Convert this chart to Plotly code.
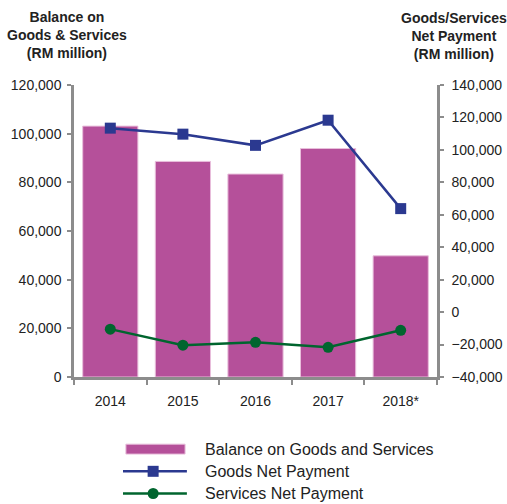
import plotly.graph_objects as go

# Annual values, RM million
years = ["2014", "2015", "2016", "2017", "2018*"]
balance_goods_services = [103100, 88600, 83400, 93900, 49800]
goods_net_payment = [113400, 109700, 102800, 118300, 63800]
services_net_payment = [-10500, -20400, -18600, -21700, -11200]

left_ticks = [0, 20000, 40000, 60000, 80000, 100000, 120000]
right_ticks = [-40000, -20000, 0, 20000, 40000, 60000, 80000, 100000, 120000, 140000]

BAR = "#B5509A"
GOODS = "#2B3990"
SERVICES = "#00652E"
AXIS = "#8C8C8C"
TEXT = "#222222"
FONT = "Liberation Sans, Arial, sans-serif"

fig = go.Figure()

fig.add_trace(go.Bar(
    x=years, y=balance_goods_services, name="Balance on Goods and Services",
    marker=dict(color=BAR, line=dict(color="#E8BEDB", width=1)),
    xaxis="x", yaxis="y", showlegend=False, hoverinfo="x+y",
))
fig.add_trace(go.Scatter(
    x=years, y=goods_net_payment, name="Goods Net Payment", mode="lines+markers",
    line=dict(color=GOODS, width=2.5), marker=dict(symbol="square", size=11, color=GOODS),
    xaxis="x", yaxis="y2", showlegend=False,
))
fig.add_trace(go.Scatter(
    x=years, y=services_net_payment, name="Services Net Payment", mode="lines+markers",
    line=dict(color=SERVICES, width=2.5), marker=dict(symbol="circle", size=11, color=SERVICES),
    xaxis="x", yaxis="y2", showlegend=False,
))

tick_font = dict(family=FONT, size=14, color=TEXT)

fig.update_layout(
    width=507, height=504,
    margin=dict(l=74, r=70, t=85, b=127, autoexpand=False),
    paper_bgcolor="white", plot_bgcolor="white",
    bargap=0.24,
    font=dict(family=FONT, color=TEXT),
    xaxis=dict(
        type="category", categoryorder="array", categoryarray=years, range=[-0.5, 4.5],
        showline=True, linecolor=AXIS, linewidth=2.5, automargin=False,
        ticks="outside", tickson="boundaries", ticklen=5, tickwidth=2, tickcolor=AXIS,
        ticklabelstandoff=9, tickfont=tick_font, showgrid=False, zeroline=False,
    ),
    xaxis2=dict(
        type="category", categoryorder="array", categoryarray=years, range=[-0.5, 4.5],
        overlaying="x", anchor="y", side="bottom", showline=False, automargin=False,
        ticks="inside", tickson="boundaries", ticklen=8, tickwidth=2, tickcolor=AXIS,
        showticklabels=False, showgrid=False, zeroline=False,
    ),
    yaxis=dict(
        range=[0, 120000], tickvals=left_ticks, tickformat=",d", automargin=False,
        showline=True, linecolor=AXIS, linewidth=2.5,
        ticks="outside", ticklen=4, tickwidth=2, tickcolor=AXIS, ticklabelstandoff=3,
        tickfont=tick_font, showgrid=False, zeroline=False,
    ),
    yaxis2=dict(
        range=[-40000, 140000], tickvals=right_ticks, tickformat=",d", automargin=False,
        overlaying="y", side="right", anchor="x",
        showline=True, linecolor=AXIS, linewidth=2.5,
        ticks="outside", ticklen=4, tickwidth=2, tickcolor=AXIS, ticklabelstandoff=5,
        tickfont=tick_font, showgrid=False, zeroline=False,
    ),
    yaxis3=dict(
        range=[0, 120000], tickvals=left_ticks, overlaying="y", side="left", anchor="x",
        ticks="inside", ticklen=3, tickwidth=2, tickcolor=AXIS, automargin=False,
        showticklabels=False, showline=False, showgrid=False, zeroline=False,
    ),
    yaxis4=dict(
        range=[-40000, 140000], tickvals=right_ticks, overlaying="y", side="right", anchor="x",
        ticks="inside", ticklen=3, tickwidth=2, tickcolor=AXIS, automargin=False,
        showticklabels=False, showline=False, showgrid=False, zeroline=False,
    ),
)

title_font = dict(family=FONT, size=14, color=TEXT)
fig.add_annotation(
    text="<b>Balance on<br>Goods & Services<br>(RM million)</b>",
    xref="paper", yref="paper", x=-0.019, y=1.171, xanchor="center", yanchor="middle",
    showarrow=False, font=title_font, align="center",
)
fig.add_annotation(
    text="<b>Goods/Services<br>Net Payment<br>(RM million)</b>",
    xref="paper", yref="paper", x=1.046, y=1.168, xanchor="center", yanchor="middle",
    showarrow=False, font=title_font, align="center",
)

# Legend drawn below the plot area
legend_font = dict(family=FONT, size=16, color=TEXT)
leg_x_sym0, leg_x_sym1, leg_x_mid, leg_x_text = 0.135, 0.311, 0.218, 0.355
rows = [-0.247, -0.323, -0.399]
labels = ["Balance on Goods and Services", "Goods Net Payment", "Services Net Payment"]

fig.add_shape(type="rect", xref="paper", yref="paper",
              x0=0.143, x1=0.306, y0=rows[0] - 0.017, y1=rows[0] + 0.017,
              fillcolor=BAR, line=dict(color="#E8BEDB", width=1), layer="above")
for row, color, kind in [(rows[1], GOODS, "rect"), (rows[2], SERVICES, "circle")]:
    fig.add_shape(type="line", xref="paper", yref="paper",
                  x0=leg_x_sym0, x1=leg_x_sym1, y0=row, y1=row,
                  line=dict(color=color, width=2.5), layer="above")
    fig.add_shape(type=kind, xref="paper", yref="paper",
                  xsizemode="pixel", ysizemode="pixel",
                  xanchor=leg_x_mid, yanchor=row, x0=-5.5, x1=5.5, y0=-5.5, y1=5.5,
                  fillcolor=color, line=dict(color=color, width=0), layer="above")
for row, label in zip(rows, labels):
    fig.add_annotation(text=label, xref="paper", yref="paper", x=leg_x_text, y=row,
                       xanchor="left", yanchor="middle", showarrow=False, font=legend_font)

fig.write_html("out.html")
